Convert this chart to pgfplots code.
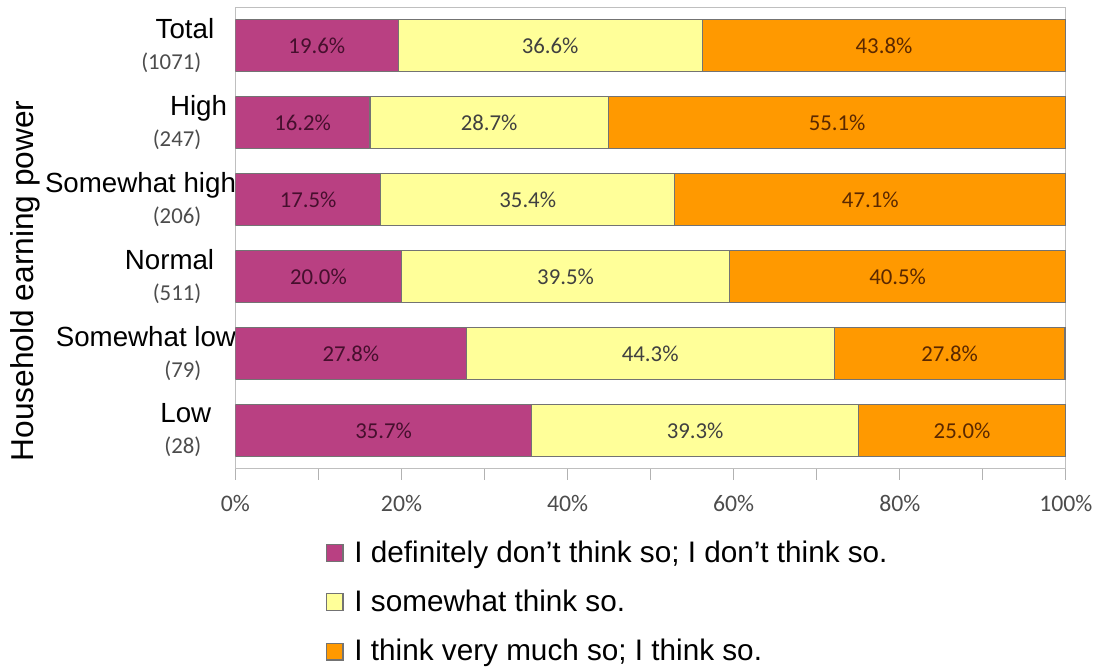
\documentclass[border=0pt]{standalone}
\usepackage{pgfplots}
\pgfplotsset{compat=1.18}
\usepackage{fontspec}
\setmainfont{Liberation Sans}
\newfontfamily\carl{Carlito}
\definecolor{cpur}{RGB}{185,64,130}
\definecolor{cyel}{RGB}{255,255,153}
\definecolor{cora}{RGB}{255,153,0}
\newcommand{\cat}[3]{#1\makebox[#3]{}\\{\carl\fontsize{11.5}{11.5}\selectfont\color{black!70}(#2)\makebox[17.5bp]{}}}
\begin{document}
\begin{tikzpicture}
\begin{axis}[
  at={(0,0)}, anchor=south west,
  scale only axis,
  width=418bp, height=232.5bp,
  xbar stacked,
  bar width=26bp,
  xmin=0, xmax=100,
  ymin=-0.5, ymax=5.5,
  y dir=reverse,
  ytick={0,1,2,3,4,5},
  yticklabels={{\cat{Total}{1071}{11bp}},{\cat{High}{247}{4.5bp}},{\cat{Somewhat high}{206}{0bp}},{\cat{Normal}{511}{11bp}},{\cat{Somewhat low}{79}{0bp}},{\cat{Low}{28}{12.5bp}}},
  yticklabel style={align=right, anchor=east, inner sep=0pt, xshift=6bp, font=\fontsize{14}{15.5}\selectfont},
  ytick style={draw=none},
  xtick={0,20,40,60,80,100},
  minor xtick={10,30,50,70,90},
  xtick pos=bottom,
  tick align=outside,
  major tick length=5.5bp,
  minor tick length=5.5bp,
  every tick/.style={black!30},
  /pgf/number format/assume math mode=true,
  xticklabel={\pgfmathprintnumber{\tick}\%},
  xticklabel style={font=\carl\fontsize{12}{12}\selectfont, text=black!70, yshift=-4.5bp},
  axis line style={black!25},
  ylabel={Household earning power},
  ylabel style={at={(rel axis cs:0,0.407)}, anchor=center, yshift=106bp, font=\fontsize{16}{16}\selectfont},
  nodes near coords={\pgfmathprintnumber[fixed,fixed zerofill,precision=1]{\pgfplotspointmeta}\%},
  every node near coord/.append style={font=\carl\fontsize{11.5}{11.5}\selectfont, anchor=center},
  legend style={at={(rel axis cs:0.108,0)}, anchor=north west, yshift=-34bp, draw=none, fill=none, inner sep=0pt, row sep=8.5bp, font=\fontsize{15}{15}\selectfont, cells={anchor=west}},
  legend image code/.code={\draw[#1] (0bp,-4.25bp) rectangle (8.5bp,4.25bp); \path (12bp,0bp);},
]
\addplot[fill=cpur, draw=black!55, line width=0.6bp, every node near coord/.append style={text={rgb,255:red,70;green,15;blue,45}}] coordinates {(19.6,0) (16.2,1) (17.5,2) (20.0,3) (27.8,4) (35.7,5)};
\addplot[fill=cyel, draw=black!55, line width=0.6bp, every node near coord/.append style={text=black!75}] coordinates {(36.6,0) (28.7,1) (35.4,2) (39.5,3) (44.3,4) (39.3,5)};
\addplot[fill=cora, draw=black!55, line width=0.6bp, every node near coord/.append style={text={rgb,255:red,90;green,40;blue,0}}] coordinates {(43.8,0) (55.1,1) (47.1,2) (40.5,3) (27.8,4) (25.0,5)};
\legend{I definitely don’t think so; I don’t think so.,I somewhat think so.,I think very much so; I think so.}
\end{axis}
\path[use as bounding box] (-118.5bp,-95.5bp) rectangle (431bp,236bp);
\end{tikzpicture}
\end{document}
